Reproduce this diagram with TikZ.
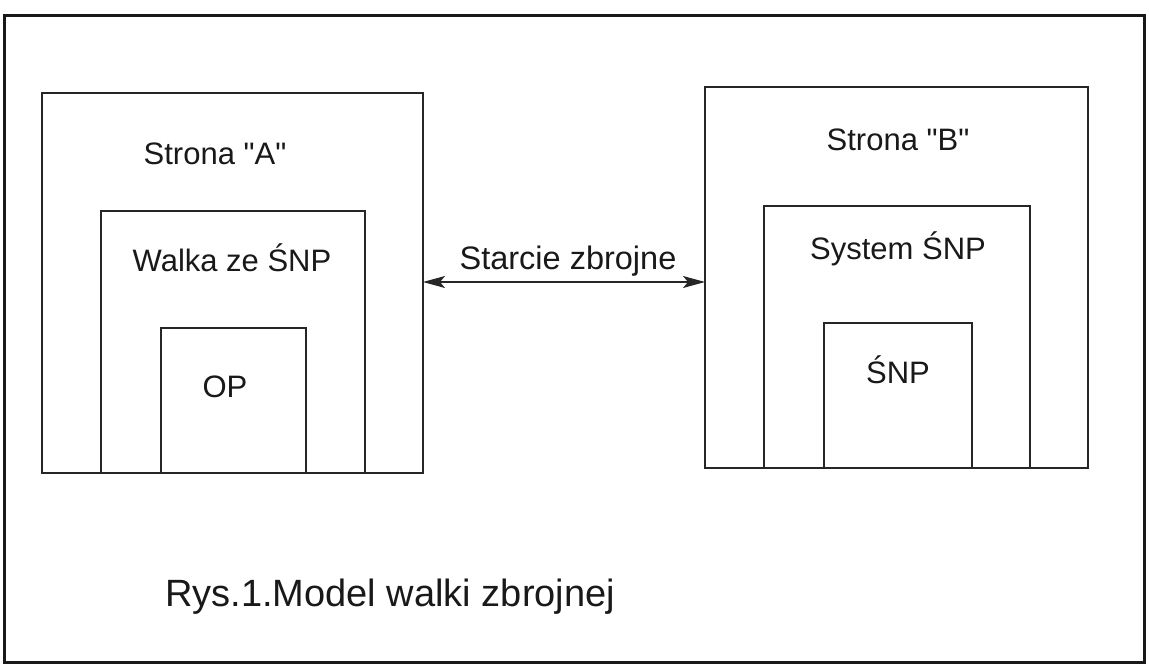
\documentclass[tikz,border=0pt]{standalone}
\usepackage{fontspec}
\setmainfont{Liberation Sans}[Ligatures=TeXOff]
\usetikzlibrary{arrows.meta}
\tikzset{
  box/.style={draw=black!85, line width=1.3pt, rectangle, inner sep=0pt, outer sep=0pt},
  lbl/.style={anchor=base, inner sep=0pt, font=\fontsize{31}{36}\selectfont, text=black!90},
  conn/.style={line width=1.2pt, draw=black!85, {Stealth[length=22pt,width=12pt,inset=5pt]}-{Stealth[length=22pt,width=12pt,inset=5pt]}}
}
\begin{document}
\begin{tikzpicture}[x=1pt,y=-1pt]
\useasboundingbox (0,0) rectangle (1149,669);
\fill[white] (0,0) rectangle (1149,669);
\node[draw=black!90, line width=3pt, rectangle, inner sep=0pt, minimum width=1140pt, minimum height=646pt] (frame) at (574,339) {};
% Side A
\node[box, minimum width=381pt, minimum height=380pt] (Aout) at (232.5,283) {};
\node[box, minimum width=264pt, minimum height=262pt] (Amid) at (233,342) {};
\node[box, minimum width=145pt, minimum height=145pt] (Ain) at (233.5,400.5) {};
\node[lbl] (tA) at (215,164) {Strona "A"};
\node[lbl] (tAmid) at (232,271.5) {Walka ze ŚNP};
\node[lbl] (tAin) at (225,397) {OP};
% Side B
\node[box, minimum width=383pt, minimum height=381pt] (Bout) at (896.5,277.5) {};
\node[box, minimum width=266pt, minimum height=262pt] (Bmid) at (897,337) {};
\node[box, minimum width=148pt, minimum height=145pt] (Bin) at (898,395.5) {};
\node[lbl] (tB) at (898,150) {Strona "B"};
\node[lbl] (tBmid) at (898,259.5) {System ŚNP};
\node[lbl] (tBin) at (898,383) {ŚNP};
% Connector
\coordinate (arrowy) at (0,282);
\draw[conn] (Aout.east |- arrowy) -- (Bout.west |- arrowy);
\node[lbl, font=\fontsize{32.5}{38}\selectfont] (tconn) at (568,269) {Starcie zbrojne};
% Caption
\node[lbl, anchor=base west, font=\fontsize{38}{44}\selectfont] (cap) at (165,606) {Rys.1.Model walki zbrojnej};
\end{tikzpicture}
\end{document}
